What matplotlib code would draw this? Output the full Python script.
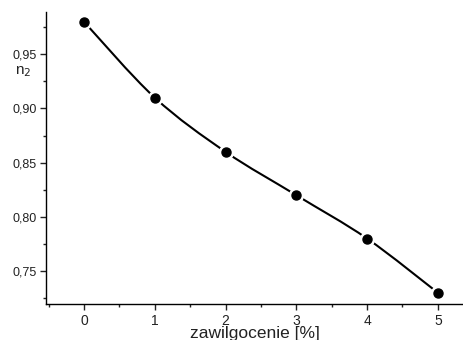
import numpy as np
import matplotlib
matplotlib.use("Agg")
import matplotlib.pyplot as plt
from matplotlib.path import Path
from matplotlib.patches import PathPatch
from matplotlib.ticker import MultipleLocator, FuncFormatter

plt.rcParams['font.family'] = ['Liberation Sans', 'DejaVu Sans']

# data
moisture = [0, 1, 2, 3, 4, 5]
n2 = [0.98, 0.91, 0.86, 0.82, 0.78, 0.73]

fig = plt.figure(figsize=(4.64, 3.4), dpi=100)
ax = fig.add_axes([0.0985, 0.1059, 0.9015, 0.8588])

# smooth curve through the points (Catmull-Rom -> cubic bezier)
pts = np.column_stack([moisture, n2]).astype(float)
ext = np.vstack([pts[0], pts, pts[-1]])
verts = [tuple(pts[0])]
codes = [Path.MOVETO]
for i in range(1, len(ext) - 2):
    p0, p1, p2, p3 = ext[i - 1], ext[i], ext[i + 1], ext[i + 2]
    c1 = p1 + (p2 - p0) / 6.0
    c2 = p2 - (p3 - p1) / 6.0
    verts += [tuple(c1), tuple(c2), tuple(p2)]
    codes += [Path.CURVE4] * 3
ax.add_patch(PathPatch(Path(verts, codes), facecolor='none', edgecolor='black',
                       lw=1.5, zorder=1))

# points with a small white gap around them
ax.plot(moisture, n2, 'o', ms=10, color='white', zorder=2)
ax.plot(moisture, n2, 'o', ms=6.5, color='black', zorder=3)

ax.set_xlim(-0.541, 5.37)
ax.set_ylim(0.7196, 0.989)

ax.spines['top'].set_visible(False)
ax.spines['right'].set_visible(False)
for s in ['left', 'bottom']:
    ax.spines[s].set_linewidth(1.0)

ax.xaxis.set_major_locator(MultipleLocator(1))
ax.xaxis.set_minor_locator(MultipleLocator(0.5))
ax.yaxis.set_major_locator(MultipleLocator(0.05))
ax.yaxis.set_minor_locator(MultipleLocator(0.025))
ax.yaxis.set_major_formatter(FuncFormatter(lambda v, p: f"{v:.2f}".replace('.', ',')))

ax.tick_params(which='major', direction='out', length=4.5, width=1, colors='#222222')
ax.tick_params(axis='x', which='major', labelsize=10, pad=2.5)
ax.tick_params(axis='y', which='major', labelsize=9, pad=2)
ax.tick_params(which='minor', direction='out', length=2.5, width=1, colors='#222222')

ax.set_xlabel('zawilgocenie [%]', fontsize=12.5, labelpad=-1, color='#222222')
ax.set_ylabel('n$_2$', fontsize=11, rotation=0, color='#222222')
ax.yaxis.set_label_coords(-0.055, 0.77)

fig.savefig('out.png', dpi=100)
